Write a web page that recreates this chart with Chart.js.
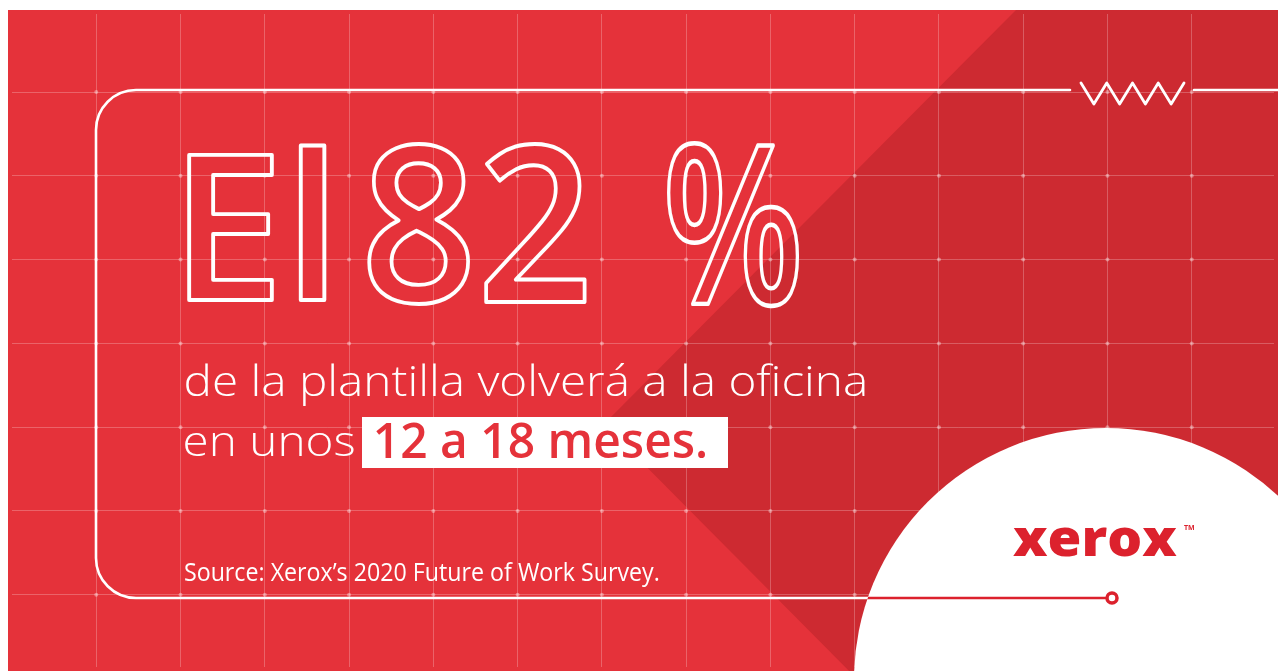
<!DOCTYPE html>
<html lang="es">
<head>
<meta charset="utf-8">
<title>El 82 % de la plantilla volverá a la oficina</title>
<script src="https://cdn.jsdelivr.net/npm/chart.js@4.4.1/dist/chart.umd.min.js"></script>
<style>
  html, body { margin: 0; padding: 0; background: #fff; overflow: hidden; }
  #wrap { position: absolute; left: 8px; top: 10px; width: 1270px; height: 661px; }
</style>
</head>
<body>
<div id="wrap"><canvas id="poster"></canvas></div>
<script>
// values shown on the card
const gridCols = [1, 2, 3, 4, 5, 6, 7, 8, 9, 10, 11, 12, 13, 14];
const gridRows = [1, 2, 3, 4, 5, 6, 7];
const shareReturning = 82;
const monthsRange = [12, 18];
const headlineParts = ["El", String(shareReturning), "%"];
const subtitleLines = ["de la plantilla volverá a la oficina", "en unos"];
const highlight = monthsRange[0] + " a " + monthsRange[1] + " meses.";
const sourceNote = "Source: Xerox’s 2020 Future of Work Survey.";
const brand = "xerox";

const RED = "rgb(229,50,58)";
const RED_DARK = "rgb(205,42,49)";
const BRAND_RED = "rgb(220,33,45)";
const WHITE = "#ffffff";

// draw text so its ink fills a box (left/right, top/baseline in page px)
function fitText(ctx, text, font, box, stroke) {
  ctx.font = font;
  const m = ctx.measureText(text);
  const inkW = m.actualBoundingBoxLeft + m.actualBoundingBoxRight;
  const sx = (box.right - box.left) / inkW;
  const sy = box.top != null ? (box.base - box.top) / m.actualBoundingBoxAscent : sx;
  ctx.save();
  ctx.translate(box.left + m.actualBoundingBoxLeft * sx, box.base);
  ctx.scale(sx, sy);
  if (stroke) {
    ctx.lineWidth = stroke / ((sx + sy) / 2);
    ctx.strokeText(text, 0, 0);
  } else {
    ctx.fillText(text, 0, 0);
  }
  ctx.restore();
  return { sx, sy };
}

const poster = {
  id: "poster",
  beforeDraw(chart) {
    const ctx = chart.ctx;
    ctx.save();
    ctx.translate(-8, -10);
    ctx.fillStyle = RED;
    ctx.fillRect(0, 0, 1290, 690);
    ctx.fillStyle = RED_DARK;
    ctx.beginPath();
    ctx.moveTo(1016, 10);
    ctx.lineTo(1290, 10);
    ctx.lineTo(1290, 690);
    ctx.lineTo(868, 690);
    ctx.lineTo(604, 424);
    ctx.closePath();
    ctx.fill();
    ctx.restore();
  },
  afterDatasetsDraw(chart) {
    const ctx = chart.ctx;
    ctx.save();
    ctx.translate(-8, -10);
    ctx.lineCap = "round";
    ctx.lineJoin = "round";

    // frame
    ctx.strokeStyle = WHITE;
    ctx.lineWidth = 2.6;
    ctx.beginPath();
    ctx.moveTo(1070, 90);
    ctx.lineTo(136, 90);
    ctx.arcTo(96, 90, 96, 130, 40);
    ctx.lineTo(96, 558);
    ctx.arcTo(96, 598, 136, 598, 40);
    ctx.lineTo(1106, 598);
    ctx.stroke();
    ctx.beginPath();
    ctx.moveTo(1194, 90);
    ctx.lineTo(1290, 90);
    ctx.stroke();

    // zigzag
    ctx.lineWidth = 2.8;
    ctx.beginPath();
    const zx0 = 1081, zx1 = 1184, n = 4;
    for (let i = 0; i <= n * 2; i++) {
      const x = zx0 + (zx1 - zx0) * i / (n * 2);
      const y = i % 2 === 0 ? 83 : 104;
      i === 0 ? ctx.moveTo(x, y) : ctx.lineTo(x, y);
    }
    ctx.stroke();

    // white disc
    ctx.fillStyle = WHITE;
    ctx.beginPath();
    ctx.arc(1106, 680, 252, 0, Math.PI * 2);
    ctx.fill();

    // red line inside disc + ring
    ctx.save();
    ctx.beginPath();
    ctx.arc(1106, 680, 252, 0, Math.PI * 2);
    ctx.clip();
    ctx.strokeStyle = BRAND_RED;
    ctx.lineWidth = 2.6;
    ctx.beginPath();
    ctx.moveTo(800, 598);
    ctx.lineTo(1106, 598);
    ctx.stroke();
    ctx.restore();
    ctx.strokeStyle = BRAND_RED;
    ctx.lineWidth = 3.5;
    ctx.fillStyle = WHITE;
    ctx.beginPath();
    ctx.arc(1112, 598, 5, 0, Math.PI * 2);
    ctx.fill();
    ctx.stroke();

    // logo
    ctx.fillStyle = BRAND_RED;
    fitText(ctx, brand, "800 52px 'Open Sans'", { left: 1013, right: 1177, top: 527, base: 556 });
    ctx.font = "700 7px 'Open Sans'";
    ctx.fillText("TM", 1184, 530);

    // headline outlines
    ctx.strokeStyle = WHITE;
    const big = "600 215px 'Open Sans'";
    fitText(ctx, headlineParts[0], big, { left: 189, right: 325, top: 144, base: 300 }, 3.8);
    fitText(ctx, headlineParts[1], big, { left: 369, right: 585, top: 143, base: 302 }, 3.8);
    fitText(ctx, headlineParts[2], big, { left: 668, right: 798, top: 143, base: 304 }, 3.8);

    // subtitle
    ctx.fillStyle = WHITE;
    const sub = "300 39px 'Open Sans'";
    const s = fitText(ctx, subtitleLines[0], sub, { left: 186, right: 865, top: 363, base: 396 });
    ctx.font = sub;
    const m2 = ctx.measureText(subtitleLines[1]);
    ctx.save();
    ctx.translate(185 + m2.actualBoundingBoxLeft * s.sx, 456);
    ctx.scale(s.sx, s.sy);
    ctx.fillText(subtitleLines[1], 0, 0);
    ctx.restore();

    // highlight box
    ctx.fillStyle = WHITE;
    ctx.fillRect(362, 417, 366, 51);
    ctx.fillStyle = RED;
    fitText(ctx, highlight, "600 44px 'Open Sans'", { left: 376, right: 706, top: 424, base: 458 });

    // source
    ctx.fillStyle = WHITE;
    fitText(ctx, sourceNote, "400 22px 'Open Sans'", { left: 185, right: 659, top: 563, base: 581 });

    ctx.restore();
  }
};

const crossings = gridCols.flatMap(c => gridRows.map(r => ({ x: c, y: r })));

const gridScale = (ticks, extra) => Object.assign({
  type: "linear",
  afterBuildTicks: axis => { axis.ticks = ticks.map(v => ({ value: v })); },
  ticks: { display: false },
  border: { display: false },
  grid: { color: "rgba(255,255,255,0.24)", lineWidth: 1, drawTicks: false, tickLength: 0 }
}, extra);

new Chart(document.getElementById("poster"), {
  type: "scatter",
  data: {
    datasets: [{
      label: "grid",
      data: crossings,
      pointRadius: 2,
      pointBorderWidth: 0,
      pointBackgroundColor: "rgba(255,255,255,0.38)"
    }]
  },
  options: {
    responsive: true,
    maintainAspectRatio: false,
    animation: false,
    events: [],
    layout: { padding: 0 },
    plugins: { legend: { display: false }, tooltip: { enabled: false } },
    scales: {
      x: gridScale(gridCols, { min: 0, max: 1270 / 84.8, afterFit: s => { s.height = 0; } }),
      y: gridScale(gridRows, { min: 0.068, max: 0.068 + 661 / 84.8, reverse: true, afterFit: s => { s.width = 0; } })
    }
  },
  plugins: [poster]
});
</script>
</body>
</html>
